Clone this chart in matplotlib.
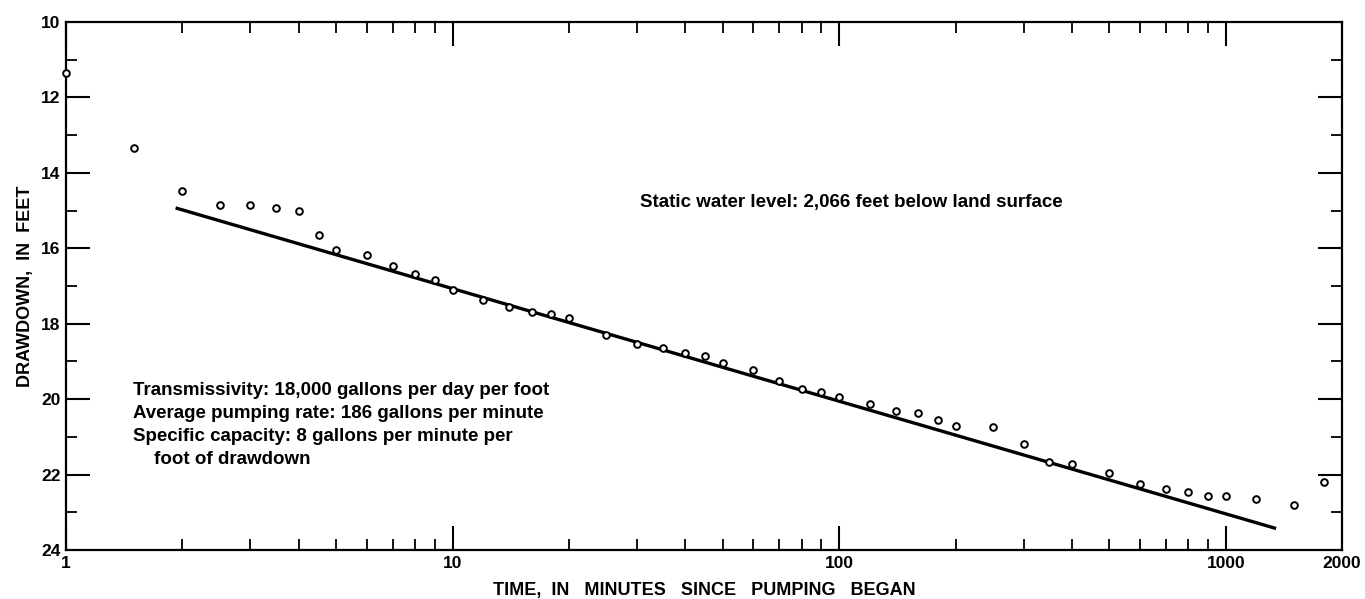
import numpy as np
import matplotlib
matplotlib.use("Agg")
import matplotlib.pyplot as plt
from matplotlib.ticker import FixedLocator, NullFormatter

plt.rcParams["font.family"] = ["Liberation Sans", "DejaVu Sans"]
plt.rcParams["font.weight"] = "bold"

# observed drawdown during pumping test
time_min = [1, 1.5, 2, 2.5, 3, 3.5, 4, 4.5, 5, 6, 7, 8, 9, 10,
            12, 14, 16, 18, 20, 25, 30, 35, 40, 45, 50, 60, 70, 80, 90, 100,
            120, 140, 160, 180, 200, 250, 300, 350, 400, 500, 600, 700, 800,
            900, 1000, 1200, 1500, 1800]
drawdown_ft = [11.35, 13.34, 14.48, 14.86, 14.86, 14.93, 15.01, 15.65, 16.04,
               16.17, 16.47, 16.67, 16.85, 17.11,
               17.37, 17.56, 17.68, 17.75, 17.85, 18.29, 18.55, 18.64, 18.77,
               18.85, 19.03, 19.24, 19.52, 19.72, 19.81, 19.94,
               20.13, 20.31, 20.36, 20.54, 20.72, 20.74, 21.20, 21.67, 21.73,
               21.95, 22.24, 22.37, 22.46, 22.57, 22.57, 22.66, 22.81, 22.21]

# fitted straight line (semi-log)
fit_time = [1.92, 1350]
fit_drawdown = [14.93, 23.43]

x_major = [1, 10, 100, 1000, 2000]
x_minor = [2, 3, 4, 5, 6, 7, 8, 9, 20, 30, 40, 50, 60, 70, 80, 90,
           200, 300, 400, 500, 600, 700, 800, 900]
y_major = [10, 12, 14, 16, 18, 20, 22, 24]
y_minor = [11, 13, 15, 17, 19, 21, 23]

fig = plt.figure(figsize=(13.65, 5.99), dpi=100)
ax = fig.add_axes([0.0484, 0.0818, 0.9348, 0.8815])

ax.plot(fit_time, fit_drawdown, color="black", lw=2.4, solid_capstyle="butt")
ax.plot(time_min, drawdown_ft, ls="", marker="o", ms=4.8, mfc="white",
        mec="black", mew=1.4, clip_on=False, zorder=3)

ax.set_xscale("log")
ax.set_xlim(1, 2000)
ax.set_ylim(24, 10)

ax.xaxis.set_major_locator(FixedLocator(x_major))
ax.xaxis.set_minor_locator(FixedLocator(x_minor))
ax.set_xticklabels([str(v) for v in x_major])
ax.xaxis.set_minor_formatter(NullFormatter())
ax.yaxis.set_major_locator(FixedLocator(y_major))
ax.yaxis.set_minor_locator(FixedLocator(y_minor))
ax.set_yticklabels([str(v) for v in y_major])

ax.tick_params(which="major", direction="in", length=17, width=1.5,
               top=True, right=True, labelsize=12.5, pad=4)
ax.tick_params(which="minor", direction="in", length=8, width=1.3,
               top=True, right=True)
# no tick marks where they would sit on the frame
for t in [ax.xaxis.get_major_ticks()[-1], ax.yaxis.get_major_ticks()[0],
          ax.yaxis.get_major_ticks()[-1]]:
    t.tick1line.set_visible(False)
    t.tick2line.set_visible(False)

for lab in ax.get_xticklabels() + ax.get_yticklabels():
    lab.set_fontweight("bold")

for sp in ax.spines.values():
    sp.set_linewidth(1.6)

ax.set_xlabel("TIME,  IN   MINUTES   SINCE   PUMPING   BEGAN", fontsize=13,
              fontweight="bold", labelpad=8)
ax.set_ylabel("DRAWDOWN,  IN  FEET", fontsize=13, fontweight="bold", labelpad=5)

ax.text(0.45, 0.659, "Static water level: 2,066 feet below land surface",
        transform=ax.transAxes, fontsize=13.5, fontweight="bold", va="center")

ax.text(0.0525, 0.318,
        "Transmissivity: 18,000 gallons per day per foot\n"
        "Average pumping rate: 186 gallons per minute\n"
        "Specific capacity: 8 gallons per minute per\n"
        "    foot of drawdown",
        transform=ax.transAxes, fontsize=13.5, fontweight="bold", va="top",
        linespacing=1.45)

fig.savefig("out.png", dpi=100)
